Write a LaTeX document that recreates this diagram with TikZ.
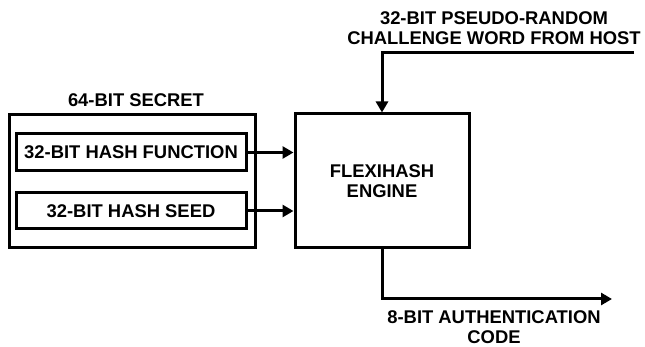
\documentclass[tikz,border=0pt]{standalone}
\usepackage{fontspec}
\setmainfont{Liberation Sans}
\usetikzlibrary{arrows.meta,positioning}

\tikzset{
  blk/.style={draw=black, line width=3pt, inner sep=0pt},
  lbl/.style={font=\fontsize{18.4}{20}\selectfont\bfseries, align=center, inner sep=0pt},
  sig/.style={line width=3pt, -{Triangle[length=11pt,width=12pt]}}
}

\begin{document}
\begin{tikzpicture}[x=1pt,y=-1pt]
\useasboundingbox (0,0) rectangle (645,347);

% key storage
\node[blk, minimum width=246pt, minimum height=133pt] (secret) at (132,181.5) {};
\node[blk, minimum width=230pt, minimum height=37pt, lbl] (hashfn) at (131,152.5) {32-BIT HASH FUNCTION};
\node[blk, minimum width=230pt, minimum height=36pt, lbl] (hashseed) at (131,211) {32-BIT HASH SEED};
\node[lbl] (secretlbl) at (136,100) {64-BIT SECRET};

% engine
\node[blk, minimum width=174pt, minimum height=134pt, lbl] (engine) at (382,181) {FLEXIHASH\\ENGINE};

% challenge in, code out
\coordinate (chal) at (634,53);
\coordinate (code) at (612,299);
\node[lbl] (challbl) at (494,28) {32-BIT PSEUDO-RANDOM\\CHALLENGE WORD FROM HOST};
\node[lbl] (codelbl) at (494,327) {8-BIT AUTHENTICATION\\CODE};

\draw[sig] (hashfn.east) -- (hashfn.east -| engine.west);
\draw[sig] (hashseed.east) -- (hashseed.east -| engine.west);
\draw[sig] (chal) -| (engine.north);
\draw[sig] (engine.south) |- (code);

\end{tikzpicture}
\end{document}
